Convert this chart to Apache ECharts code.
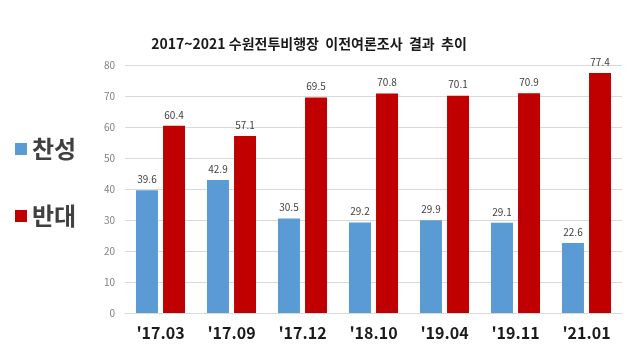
<!DOCTYPE html>
<html>
<head>
<meta charset="utf-8">
<script src="https://cdn.jsdelivr.net/npm/echarts@6/dist/echarts.min.js"></script>
<style>
  html, body { margin: 0; padding: 0; background: #fff; }
  #chart { width: 627px; height: 351px; }
</style>
</head>
<body>
<div id="chart"></div>
<script>
// 조사 시점
const periods = ["'17.03", "'17.09", "'17.12", "'18.10", "'19.04", "'19.11", "'21.01"];
// 찬성 / 반대 (%)
const agree = [39.6, 42.9, 30.5, 29.2, 29.9, 29.1, 22.6];
const oppose = [60.4, 57.1, 69.5, 70.8, 70.1, 70.9, 77.4];

const chart = echarts.init(document.getElementById('chart'));
const font = "'Noto Sans CJK KR', 'Noto Sans', sans-serif";

const labelStyle = {
    show: true,
    position: 'top',
    distance: 6,
    fontSize: 10,
    color: '#404040',
    fontFamily: font,
};

const option = {
    animation: false,
    title: {
        text: '2017~2021 수원전투비행장  이전여론조사  결과  추이',
        left: 304,
        textAlign: 'center',
        top: 32,
        textStyle: { fontSize: 14, fontWeight: 'bold', color: '#1a1a1a', fontFamily: font },
    },
    legend: {
        orient: 'vertical',
        left: 10,
        top: 132,
        itemWidth: 12,
        itemHeight: 12,
        itemGap: 43,
        icon: 'rect',
        textStyle: { fontSize: 24, fontWeight: 'bold', color: '#404040', fontFamily: font },
    },
    grid: { left: 125, right: 5, top: 65, bottom: 38 },
    xAxis: {
        type: 'category',
        data: periods,
        axisLine: { lineStyle: { color: '#d9d9d9' } },
        axisTick: { show: false },
        axisLabel: { fontSize: 16, fontWeight: 'bold', color: '#1a1a1a', margin: 12, fontFamily: font },
    },
    yAxis: {
        type: 'value',
        min: 0,
        max: 80,
        interval: 10,
        axisLine: { show: false },
        axisTick: { show: false },
        axisLabel: { fontSize: 10, color: '#808080', margin: 10, fontFamily: font },
        splitLine: { lineStyle: { color: '#d9d9d9' } },
    },
    series: [
        {
            name: '찬성',
            type: 'bar',
            data: agree,
            barWidth: 22,
            barGap: '23%',
            itemStyle: { color: '#5b9bd5' },
            label: labelStyle,
        },
        {
            name: '반대',
            type: 'bar',
            data: oppose,
            barWidth: 22,
            itemStyle: { color: '#c00000' },
            label: labelStyle,
        },
    ],
};

chart.setOption(option);
</script>
</body>
</html>
